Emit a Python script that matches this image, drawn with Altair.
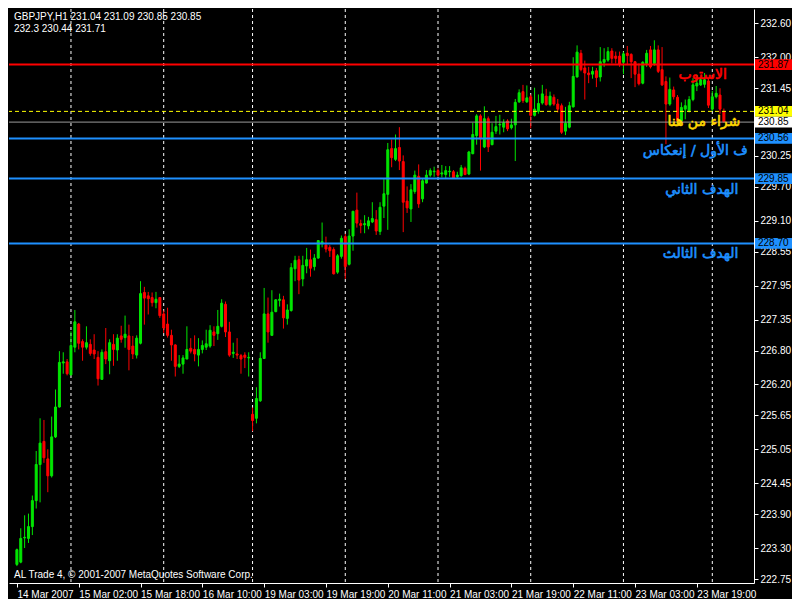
import altair as alt
import pandas as pd

# ---------------- data (GBPJPY H1 candles) ----------------
opens = [223.01,223.05,223.48,223.47,223.68,224.14,224.78,225.19,224.88,224.58,
         225.27,225.80,226.58,226.60,226.37,226.86,227.27,226.96,226.86,226.91,
         226.81,226.68,226.29,226.78,226.62,226.91,226.81,227.06,227.03,227.06,
         226.88,226.72,226.93,227.83,227.77,227.74,227.65,227.74,227.45,227.27,
         227.07,226.90,226.52,226.56,226.65,226.84,226.82,226.72,226.82,226.86,
         226.88,227.13,227.10,227.23,227.62,227.13,226.75,226.74,226.71,226.72,
         226.67,225.67,225.60,225.91,226.66,227.45,227.07,227.49,227.69,227.70,
         227.37,227.51,228.25,228.41,228.07,228.30,228.41,228.29,228.44,228.71,
         228.67,228.63,228.59,228.19,228.47,228.82,228.33,228.83,229.29,229.05,
         229.03,229.01,229.08,229.12,228.91,229.36,229.57,230.38,230.19,230.40,
         230.15,229.45,229.31,229.62,229.89,229.49,229.77,229.91,229.97,229.99,
         229.93,229.92,229.97,229.97,229.88,229.90,230.03,229.93,230.29,230.61,
         230.96,230.41,230.91,230.45,230.69,230.80,230.76,230.87,230.75,230.80,
         231.21,231.39,231.21,231.30,230.97,231.04,231.19,231.31,231.16,231.29,
         231.17,231.14,230.69,230.76,231.12,231.65,232.07,231.81,231.72,231.70,
         231.76,231.65,231.91,231.95,232.11,232.02,232.02,231.91,232.07,232.05,
         231.92,231.70,231.54,231.89,232.13,231.89,232.13,231.78,231.57,231.17,
         231.42,231.29,230.87,231.08,231.05,231.25,231.49,231.51,231.52,231.58,
         231.08,231.30,231.33,231.04]
highs = [223.29,223.65,223.88,223.91,224.23,225.02,225.60,225.57,225.05,225.63,
         226.11,226.79,226.77,226.65,227.14,227.52,227.29,227.00,227.23,227.00,
         227.09,226.79,226.82,227.20,227.00,227.09,227.09,227.24,227.42,227.26,
         227.06,227.07,228.03,227.93,227.84,227.83,227.84,227.74,227.51,227.56,
         227.17,226.91,226.72,226.72,227.23,227.02,227.07,227.02,226.98,227.17,
         227.25,227.23,227.52,227.71,227.67,227.31,226.94,227.02,226.74,226.77,
         226.77,225.79,226.15,226.77,227.91,227.74,227.87,227.71,227.81,227.77,
         227.62,228.35,228.48,228.48,228.48,228.62,228.59,228.51,228.75,229.07,
         228.82,228.67,228.63,228.51,228.84,228.87,228.95,229.27,229.60,229.12,
         229.20,229.17,229.43,229.29,229.43,229.84,230.48,230.54,230.63,230.76,
         230.26,229.71,229.75,229.99,230.10,229.84,230.00,230.03,230.06,230.03,
         230.09,230.07,230.07,230.00,229.97,230.09,230.06,230.34,230.84,230.99,
         230.99,231.13,230.95,230.83,230.96,230.98,230.90,230.90,230.91,231.26,
         231.43,231.51,231.50,231.34,231.46,231.34,231.51,231.44,231.39,231.34,
         231.26,231.18,231.12,231.21,232.00,232.21,232.13,231.94,231.83,231.83,
         231.81,232.18,232.16,232.18,232.16,232.10,232.10,232.10,232.20,232.07,
         231.93,231.89,231.93,232.13,232.20,232.30,232.21,232.18,231.66,231.64,
         231.48,231.33,231.20,231.25,231.31,231.63,231.69,231.66,231.72,231.62,
         231.40,231.49,231.45,231.09]
lows = [222.98,223.03,223.30,223.39,223.53,224.00,224.11,224.81,224.29,224.55,
        225.25,225.79,226.39,226.36,226.36,226.77,226.82,226.62,226.82,226.71,
        226.65,226.18,226.28,226.56,226.38,226.53,226.62,226.94,226.85,226.45,
        226.65,226.66,226.91,227.26,227.44,227.58,227.55,227.38,227.11,227.03,
        226.62,226.34,226.49,226.39,226.65,226.75,226.61,226.52,226.75,226.81,
        226.85,226.88,226.99,227.21,227.04,226.69,226.67,226.65,226.39,226.49,
        226.34,225.37,225.51,225.89,226.65,226.94,227.06,227.48,227.58,227.19,
        227.26,227.49,228.03,227.80,227.94,228.17,228.11,228.22,228.43,228.63,
        228.54,228.46,228.15,228.16,228.43,228.07,228.31,228.57,228.98,228.88,
        228.88,228.95,229.06,228.85,228.85,229.15,228.94,230.05,230.16,230.00,
        228.90,229.24,229.08,229.58,229.33,229.43,229.76,229.88,229.88,229.88,
        229.87,229.86,229.88,229.85,229.86,229.88,229.91,229.91,230.28,230.45,
        229.99,230.39,230.32,230.44,230.64,230.63,230.67,230.69,230.72,230.16,
        231.19,231.19,231.19,230.74,230.95,231.00,231.16,231.14,231.13,231.14,
        231.02,230.64,230.62,230.74,231.11,231.64,231.75,231.25,231.54,231.62,
        231.47,231.57,231.83,231.92,231.89,231.89,231.83,231.70,231.86,231.63,
        231.47,231.50,231.52,231.83,231.80,231.85,231.72,231.49,230.46,231.14,
        231.25,230.84,230.84,230.90,231.02,231.22,231.40,231.49,231.46,231.10,
        231.05,231.27,231.00,230.85]
closes = [223.27,223.47,223.49,223.68,224.14,224.78,225.16,224.90,224.58,225.27,
          225.80,226.59,226.60,226.39,226.89,227.31,226.93,226.86,226.94,226.75,
          226.74,226.30,226.77,226.65,226.94,226.82,227.02,227.00,227.09,226.82,
          226.74,227.02,227.81,227.73,227.72,227.65,227.71,227.42,227.20,227.07,
          226.90,226.52,226.56,226.67,226.82,226.79,226.74,226.82,226.89,226.92,
          227.16,227.07,227.23,227.64,227.13,226.72,226.77,226.72,226.65,226.68,
          226.68,225.56,225.95,226.66,227.45,227.13,227.48,227.70,227.71,227.38,
          227.52,228.27,228.40,228.05,228.31,228.41,228.26,228.44,228.75,228.73,
          228.60,228.57,228.16,228.48,228.79,228.29,228.83,229.27,229.06,229.02,
          229.05,229.10,229.14,228.92,229.34,229.58,230.36,230.22,230.38,230.16,
          229.43,229.33,229.65,229.91,229.40,229.81,229.91,229.99,229.98,229.91,
          229.95,229.99,229.98,229.86,229.91,230.04,229.92,230.32,230.63,230.96,
          230.55,230.91,230.41,230.67,230.77,230.81,230.84,230.73,230.80,231.20,
          231.37,231.23,231.28,230.97,231.08,231.18,231.35,231.16,231.31,231.17,
          231.08,230.67,230.83,231.14,231.66,232.09,231.78,231.72,231.69,231.75,
          231.64,231.92,231.96,232.10,231.98,231.98,231.88,232.06,232.03,231.92,
          231.70,231.53,231.91,232.07,231.83,232.13,231.75,231.51,231.17,231.43,
          231.30,230.87,231.11,231.14,231.25,231.51,231.54,231.60,231.60,231.15,
          231.30,231.36,231.08,230.85]

x_tick_idx = [0, 16, 32, 48, 64, 80, 96, 112, 128, 144, 160, 176]
x_tick_labels = ['14 Mar 2007', '15 Mar 02:00', '15 Mar 18:00', '16 Mar 10:00',
                 '19 Mar 03:00', '19 Mar 19:00', '20 Mar 11:00', '21 Mar 03:00',
                 '21 Mar 19:00', '22 Mar 11:00', '23 Mar 03:00', '23 Mar 19:00']
# 230.85 sits under the current-price box in the reference
y_ticks = [232.60, 232.00, 231.45, 230.25, 229.70, 229.10, 228.55, 227.95,
           227.35, 226.80, 226.20, 225.65, 225.05, 224.45, 223.90, 223.30, 222.75]
grid_idx = [14, 38, 61, 85, 109, 133, 157, 180]

solid_levels = [231.87, 230.56, 229.85, 228.70]
solid_colors = ['#FF0000', '#1E90FF', '#1E90FF', '#1E90FF']
buy_level = [231.04]
bid_level = [230.85]

# the first-target label is cut by the chart's right edge in the reference
note_texts = ['الاستوب', 'شراء من هنا', 'ف الأول / إنعكاس', 'الهدف الثاني', 'الهدف الثالث']
note_idx = [183.75, 187.25, 189.2, 186.75, 186.75]
note_price = [231.68, 230.86, 230.34, 229.64, 228.52]
note_colors = ['#FF0000', '#FFD700', '#1E90FF', '#1E90FF', '#1E90FF']

box_prices = [231.87, 231.04, 230.85, 230.56, 229.85, 228.70]
box_labels = ['231.87', '231.04', '230.85', '230.56', '229.85', '228.70']
box_colors = ['#FF0000', '#FFFF00', '#FFFFFF', '#1E90FF', '#1E90FF', '#1E90FF']

header_1 = 'GBPJPY,H1  231.04 231.09 230.85 230.85'
header_2 = '232.3 230.44 231.71'
footer = 'AL Trade 4, © 2001-2007 MetaQuotes Software Corp.'

# ---------------- chart ----------------
W, H = 745, 574
FONT = 'Liberation Sans'
UP, DOWN = '#00E600', '#FF0000'

candles = pd.DataFrame({'idx': list(range(len(opens))), 'open': opens, 'high': highs,
                        'low': lows, 'close': closes})
candles['dir'] = ['up' if c >= o else 'down' for o, c in zip(opens, closes)]

xs = alt.Scale(domain=[-0.75, 189.5], nice=False, zero=False)
ys = alt.Scale(domain=[222.68, 232.855], nice=False, zero=False)
cs = alt.Scale(domain=['up', 'down'], range=[UP, DOWN])

label_expr = '[' + ','.join("'%s'" % t for t in x_tick_labels) + '][round(datum.value / 16)]'
x_axis = alt.Axis(values=x_tick_idx, labelExpr=label_expr, orient='bottom', title=None,
                  grid=False, domainColor='white', tickColor='white', labelColor='white',
                  tickSize=4, labelAlign='left', labelPadding=2, labelFont=FONT,
                  labelFontSize=10, labelOverlap=False, labelFlush=False, labelBound=False,
                  labelBaseline='top')
y_axis = alt.Axis(values=y_ticks, orient='right', title=None, grid=False, format='.2f',
                  domainColor='white', tickColor='white', labelColor='white', tickSize=4,
                  labelPadding=2, labelFont=FONT, labelFontSize=10, labelOverlap=False,
                  labelFlush=False, labelBound=False)

def X(field):
    return alt.X(field, scale=xs, axis=x_axis)

def Y(field):
    return alt.Y(field, scale=ys, axis=y_axis)

grid = alt.Chart(pd.DataFrame({'idx': grid_idx})).mark_rule(
    color='white', strokeDash=[3, 3], strokeWidth=1).encode(x=X('idx:Q'))

wicks = alt.Chart(candles).mark_rule(strokeWidth=1).encode(
    x=X('idx:Q'), y=Y('low:Q'), y2='high:Q',
    color=alt.Color('dir:N', scale=cs, legend=None))

bodies = alt.Chart(candles).mark_bar(size=2, strokeWidth=1).encode(
    x=X('idx:Q'), y=Y('open:Q'), y2='close:Q',
    color=alt.Color('dir:N', scale=cs, legend=None),
    stroke=alt.Stroke('dir:N', scale=cs, legend=None))

solid = alt.Chart(pd.DataFrame({'price': solid_levels, 'col': solid_colors})).mark_rule(
    strokeWidth=2).encode(y=Y('price:Q'), color=alt.Color('col:N', scale=None))
buy = alt.Chart(pd.DataFrame({'price': buy_level})).mark_rule(
    color='#FFFF00', strokeWidth=1, strokeDash=[4, 3]).encode(y=Y('price:Q'))
bid = alt.Chart(pd.DataFrame({'price': bid_level})).mark_rule(
    color='#9A9A9A', strokeWidth=1).encode(y=Y('price:Q'))

notes = alt.Chart(pd.DataFrame({'t': note_texts, 'idx': note_idx, 'price': note_price,
                                'col': note_colors})).mark_text(
    align='right', baseline='middle', font='DejaVu Sans', fontSize=14, strokeWidth=0.6,
    clip=True).encode(
    x=X('idx:Q'), y=Y('price:Q'), text='t:N',
    color=alt.Color('col:N', scale=None), stroke=alt.Stroke('col:N', scale=None))

box_df = pd.DataFrame({'price': box_prices, 'label': box_labels, 'col': box_colors})
boxes = alt.Chart(box_df).transform_calculate(
    lo='datum.price - 0.095', hi='datum.price + 0.095').mark_rect().encode(
    x=alt.value(W + 1), x2=alt.value(W + 38),
    y=Y('lo:Q'), y2='hi:Q',
    color=alt.Color('col:N', scale=None))
box_text = alt.Chart(box_df).mark_text(
    align='left', baseline='middle', font=FONT, fontSize=10, color='black').encode(
    x=alt.value(W + 4), y=Y('price:Q'), text='label:N')

def fixed_text(txt, x, y):
    return alt.Chart(pd.DataFrame({'t': [txt]})).mark_text(
        align='left', baseline='alphabetic', font=FONT, fontSize=10, color='white').encode(
        x=alt.value(x), y=alt.value(y), text='t:N')

chart = alt.layer(
    grid, wicks, bodies, solid, buy, bid, notes, boxes, box_text,
    fixed_text(header_1, 5, 11), fixed_text(header_2, 5, 23), fixed_text(footer, 5, 569)
).properties(
    width=W, height=H, background='black', padding=0
).configure_view(stroke=None, fill='black')

chart.save('out.html', embed_options={'renderer': 'svg', 'actions': False})
